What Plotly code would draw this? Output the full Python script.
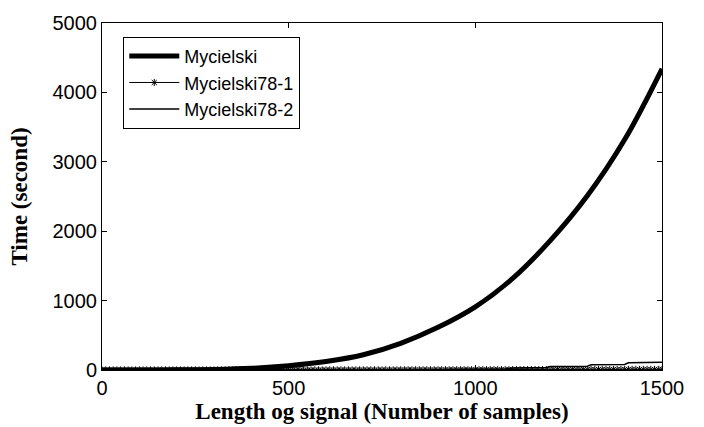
import plotly.graph_objects as go

# Mycielski (thick line), sampled every 100 samples
x_myc = [0, 100, 200, 300, 400, 500, 600, 700, 800, 900, 1000, 1100, 1200, 1300, 1400, 1500]
y_myc = [0, 0.5, 2, 8, 25, 62, 122, 220, 385, 615, 910, 1320, 1860, 2510, 3320, 4340]

# Mycielski78-1 (star markers), sampled every 10 samples
x_78_1 = list(range(0, 1501, 10))
y_78_1 = [
    0, 0, 0, 0, 0, 0, 0, 0, 0, 0, 0, 0, 0, 0, 0, 0, 0, 0, 0, 0,
    0, 0, 0, 0, 0, 0, 0, 0, 0, 0, 0, 0, 0, 0, 0, 0, 0, 0, 0, 0,
    0, 0, 0, 0, 0, 0, 0, 0, 0, 0, 0, 0, 0, 0, 0, 0, 0, 0, 0, 0,
    1, 1, 1, 1, 1, 1, 1, 1, 1, 1, 1, 1, 1, 1, 1, 1, 1, 1, 1, 1,
    2, 2, 2, 2, 2, 2, 2, 2, 2, 2, 3, 3, 3, 3, 3, 3, 3, 3, 3, 3,
    4, 4, 4, 4, 4, 4, 4, 4, 4, 4, 5, 5, 5, 5, 5, 5, 5, 5, 5, 5,
    6, 6, 6, 6, 6, 6, 6, 6, 6, 6, 7, 7, 7, 7, 7, 7, 7, 7, 7, 7,
    8, 8, 8, 8, 8, 8, 8, 8, 8, 8, 9,
]

# Mycielski78-2 (thin line), step-like growth
x_78_2 = [0, 500, 900, 1000, 1080, 1100, 1190, 1200, 1300, 1310, 1400, 1410, 1500]
y_78_2 = [0, 0, 5, 12, 15, 30, 35, 50, 55, 75, 80, 105, 112]

fig = go.Figure()
fig.add_trace(go.Scatter(x=x_myc, y=y_myc, mode="lines", name="Mycielski",
                         line=dict(color="black", width=5, shape="spline")))
fig.add_trace(go.Scatter(x=x_78_1, y=y_78_1, mode="lines+markers", name="Mycielski78-1",
                         line=dict(color="black", width=1),
                         marker=dict(symbol="asterisk-open", size=6, color="black",
                                     line=dict(color="black", width=1))))
fig.add_trace(go.Scatter(x=x_78_2, y=y_78_2, mode="lines", name="Mycielski78-2",
                         line=dict(color="black", width=1.5)))

tick_font = dict(family="Liberation Sans, Arial", size=20, color="black")
title_font = dict(family="Liberation Serif, Times New Roman", size=23, color="black")
axis_common = dict(showline=True, linecolor="black", linewidth=1, mirror="ticks",
                   ticks="inside", ticklen=5, tickcolor="black", showgrid=False,
                   zeroline=False, tickfont=tick_font)

fig.update_layout(
    width=704, height=427,
    margin=dict(l=102, r=42, t=18, b=54),
    paper_bgcolor="white", plot_bgcolor="white",
    xaxis=dict(range=[0, 1500], tickvals=[0, 500, 1000, 1500],
               title=dict(text="<b>Length og signal (Number of samples)</b>",
                          font=title_font, standoff=0),
               **axis_common),
    yaxis=dict(range=[0, 5000], tickvals=[0, 1000, 2000, 3000, 4000, 5000],
               title=dict(text="<b>Time (second)</b>", font=title_font, standoff=18),
               **axis_common),
    legend=dict(x=0.038, y=0.96, xanchor="left", yanchor="top",
                bgcolor="white", bordercolor="black", borderwidth=1,
                font=dict(family="Liberation Sans, Arial", size=18, color="black"),
                tracegroupgap=0, itemwidth=50),
    showlegend=True,
)

fig.write_html("out.html")
